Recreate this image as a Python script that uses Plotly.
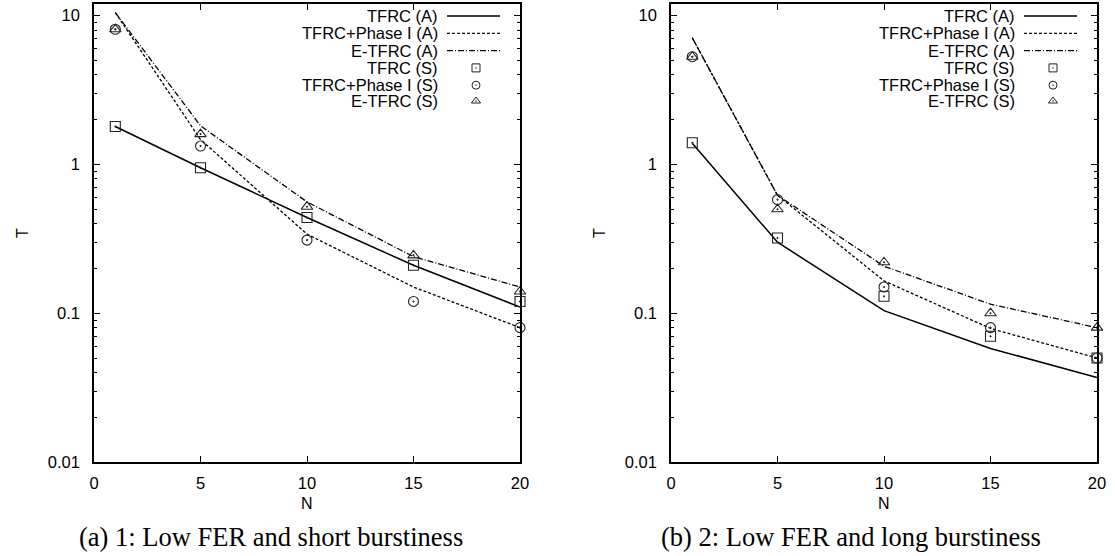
import plotly.graph_objects as go

W, H = 1115, 556

# ---------------- data ----------------
N = [1, 5, 10, 15, 20]

# panel (a): analytical (A) curves and simulation (S) points
a_tfrc_A = [1.8, 0.95, 0.44, 0.21, 0.11]
a_phase_A = [10.5, 1.47, 0.34, 0.15, 0.08]
a_etfrc_A = [10.5, 1.82, 0.56, 0.24, 0.15]
a_tfrc_S = [1.8, 0.95, 0.44, 0.21, 0.12]
a_phase_S = [8.1, 1.33, 0.31, 0.12, 0.08]
a_etfrc_S = [8.1, 1.6, 0.52, 0.245, 0.14]

# panel (b)
b_tfrc_A = [1.39, 0.30, 0.104, 0.058, 0.037]
b_phase_A = [7.1, 0.62, 0.165, 0.079, 0.05]
b_etfrc_A = [7.1, 0.62, 0.207, 0.115, 0.08]
b_tfrc_S = [1.4, 0.32, 0.13, 0.07, 0.05]
b_phase_S = [5.3, 0.58, 0.15, 0.08, 0.05]
b_etfrc_S = [5.3, 0.5, 0.22, 0.10, 0.08]

x_ticks = [0, 5, 10, 15, 20]
y_ticks = [0.01, 0.1, 1, 10]
y_ticktext = ["0.01", "0.1", "1", "10"]

names_A = ["TFRC (A)", "TFRC+Phase I (A)", "E-TFRC (A)"]
names_S = ["TFRC (S)", "TFRC+Phase I (S)", "E-TFRC (S)"]
captions = ["(a) 1: Low FER and short burstiness", "(b) 2: Low FER and long burstiness"]

# ---------------- styles ----------------
dashes = ["solid", "3px,2px", "6px,2px,1px,2px"]
symbols = ["square-open-dot", "circle-open-dot", "triangle-up-open-dot"]
SANS = "Liberation Sans, Arial, sans-serif"
SERIF = "Liberation Serif, Times New Roman, serif"

fig = go.Figure()

panels = [
    dict(A=[a_tfrc_A, a_phase_A, a_etfrc_A], S=[a_tfrc_S, a_phase_S, a_etfrc_S],
         xa="x", ya="y", left=94, right=520),
    dict(A=[b_tfrc_A, b_phase_A, b_etfrc_A], S=[b_tfrc_S, b_phase_S, b_etfrc_S],
         xa="x2", ya="y2", left=671, right=1097),
]

for p in panels:
    for i, ys in enumerate(p["A"]):
        fig.add_trace(go.Scatter(x=N, y=ys, mode="lines", name=names_A[i],
                                 xaxis=p["xa"], yaxis=p["ya"], showlegend=False,
                                 line=dict(color="black", width=1.5 if i == 0 else 1.3,
                                           dash=dashes[i])))
    for i, ys in enumerate(p["S"]):
        fig.add_trace(go.Scatter(x=N, y=ys, mode="markers", name=names_S[i],
                                 xaxis=p["xa"], yaxis=p["ya"], showlegend=False,
                                 cliponaxis=False,
                                 marker=dict(symbol=symbols[i], size=10, color="#222",
                                             line=dict(width=1.1, color="#222"))))

top_px, bot_px = 4, 462
ydom = [1 - bot_px / H, 1 - top_px / H]
minor_vals = [m * 10 ** e for e in (-2, -1, 0, 1) for m in range(2, 10)]

axis_common = dict(showline=True, linecolor="black", linewidth=1.5, mirror="ticks",
                   ticks="inside", ticklen=6, tickcolor="black", tickwidth=1,
                   showgrid=False, zeroline=False, automargin=False,
                   tickfont=dict(family=SANS, size=16.5, color="black"))

for k, p in enumerate(panels):
    sx = "" if k == 0 else "2"
    fig.update_layout(**{
        "xaxis" + sx: dict(axis_common, domain=[p["left"] / W, p["right"] / W], range=[0, 20],
                           tickmode="array", tickvals=x_ticks, anchor="y" + sx,
                           ticklabelstandoff=5),
        "yaxis" + sx: dict(axis_common, domain=ydom, type="log",
                           range=[-2, 1.0785], tickmode="array", tickvals=y_ticks,
                           ticktext=y_ticktext, anchor="x" + sx, ticklabelstandoff=9,
                           minor=dict(ticks="inside", ticklen=3, tickcolor="black",
                                      tickvals=minor_vals, showgrid=False)),
    })

# overlay pixel axes for the legend glyphs
fig.update_layout(
    xaxis3=dict(domain=[0, 1], range=[0, W], visible=False, anchor="y3",
                fixedrange=True, automargin=False),
    yaxis3=dict(domain=[0, 1], range=[H, 0], visible=False, anchor="x3",
                fixedrange=True, automargin=False),
)

row_y = [16, 33.3, 50.6, 67.9, 85.2, 101]
annotations = []
shapes = []
for k, p in enumerate(panels):
    R = p["right"]
    text_right = R - 80
    for j, name in enumerate(names_A + names_S):
        annotations.append(dict(x=text_right / W, y=1 - row_y[j] / H, xref="paper", yref="paper",
                                text=name, showarrow=False, xanchor="right", yanchor="middle",
                                font=dict(family=SANS, size=16.5, color="black")))
    for j in range(3):
        shapes.append(dict(type="line", xref="x3", yref="y3", x0=R - 73, x1=R - 20,
                           y0=row_y[j], y1=row_y[j],
                           line=dict(color="black", width=1.5 if j == 0 else 1.3, dash=dashes[j])))
    for j in range(3):
        fig.add_trace(go.Scatter(x=[R - 44], y=[row_y[3 + j]], mode="markers",
                                 xaxis="x3", yaxis="y3", showlegend=False, hoverinfo="skip",
                                 marker=dict(symbol=symbols[j], size=8, color="#222",
                                             line=dict(width=1.0, color="#222"))))
    cx = (p["left"] + p["right"]) / 2
    # axis titles
    annotations.append(dict(x=cx / W, y=1 - 503 / H, xref="paper", yref="paper", text="N",
                            showarrow=False, xanchor="center", yanchor="middle",
                            font=dict(family=SANS, size=16, color="black")))
    annotations.append(dict(x=(p["left"] - 72) / W, y=1 - 233 / H, xref="paper", yref="paper",
                            text="T", textangle=-90, showarrow=False, xanchor="center",
                            yanchor="middle", font=dict(family=SANS, size=16, color="black")))
    # caption
    capx = 271 if k == 0 else 851
    annotations.append(dict(x=capx / W, y=1 - 537 / H, xref="paper", yref="paper",
                            text=captions[k], showarrow=False, xanchor="center", yanchor="middle",
                            font=dict(family=SERIF, size=26.5, color="black")))

fig.update_layout(width=W, height=H, margin=dict(l=0, r=0, t=0, b=0, pad=0),
                  paper_bgcolor="white", plot_bgcolor="rgba(0,0,0,0)",
                  annotations=annotations, shapes=shapes, showlegend=False)

fig.write_html("out.html", config={"displayModeBar": False},
               post_script="document.body.style.margin='0';document.body.style.padding='0';")
